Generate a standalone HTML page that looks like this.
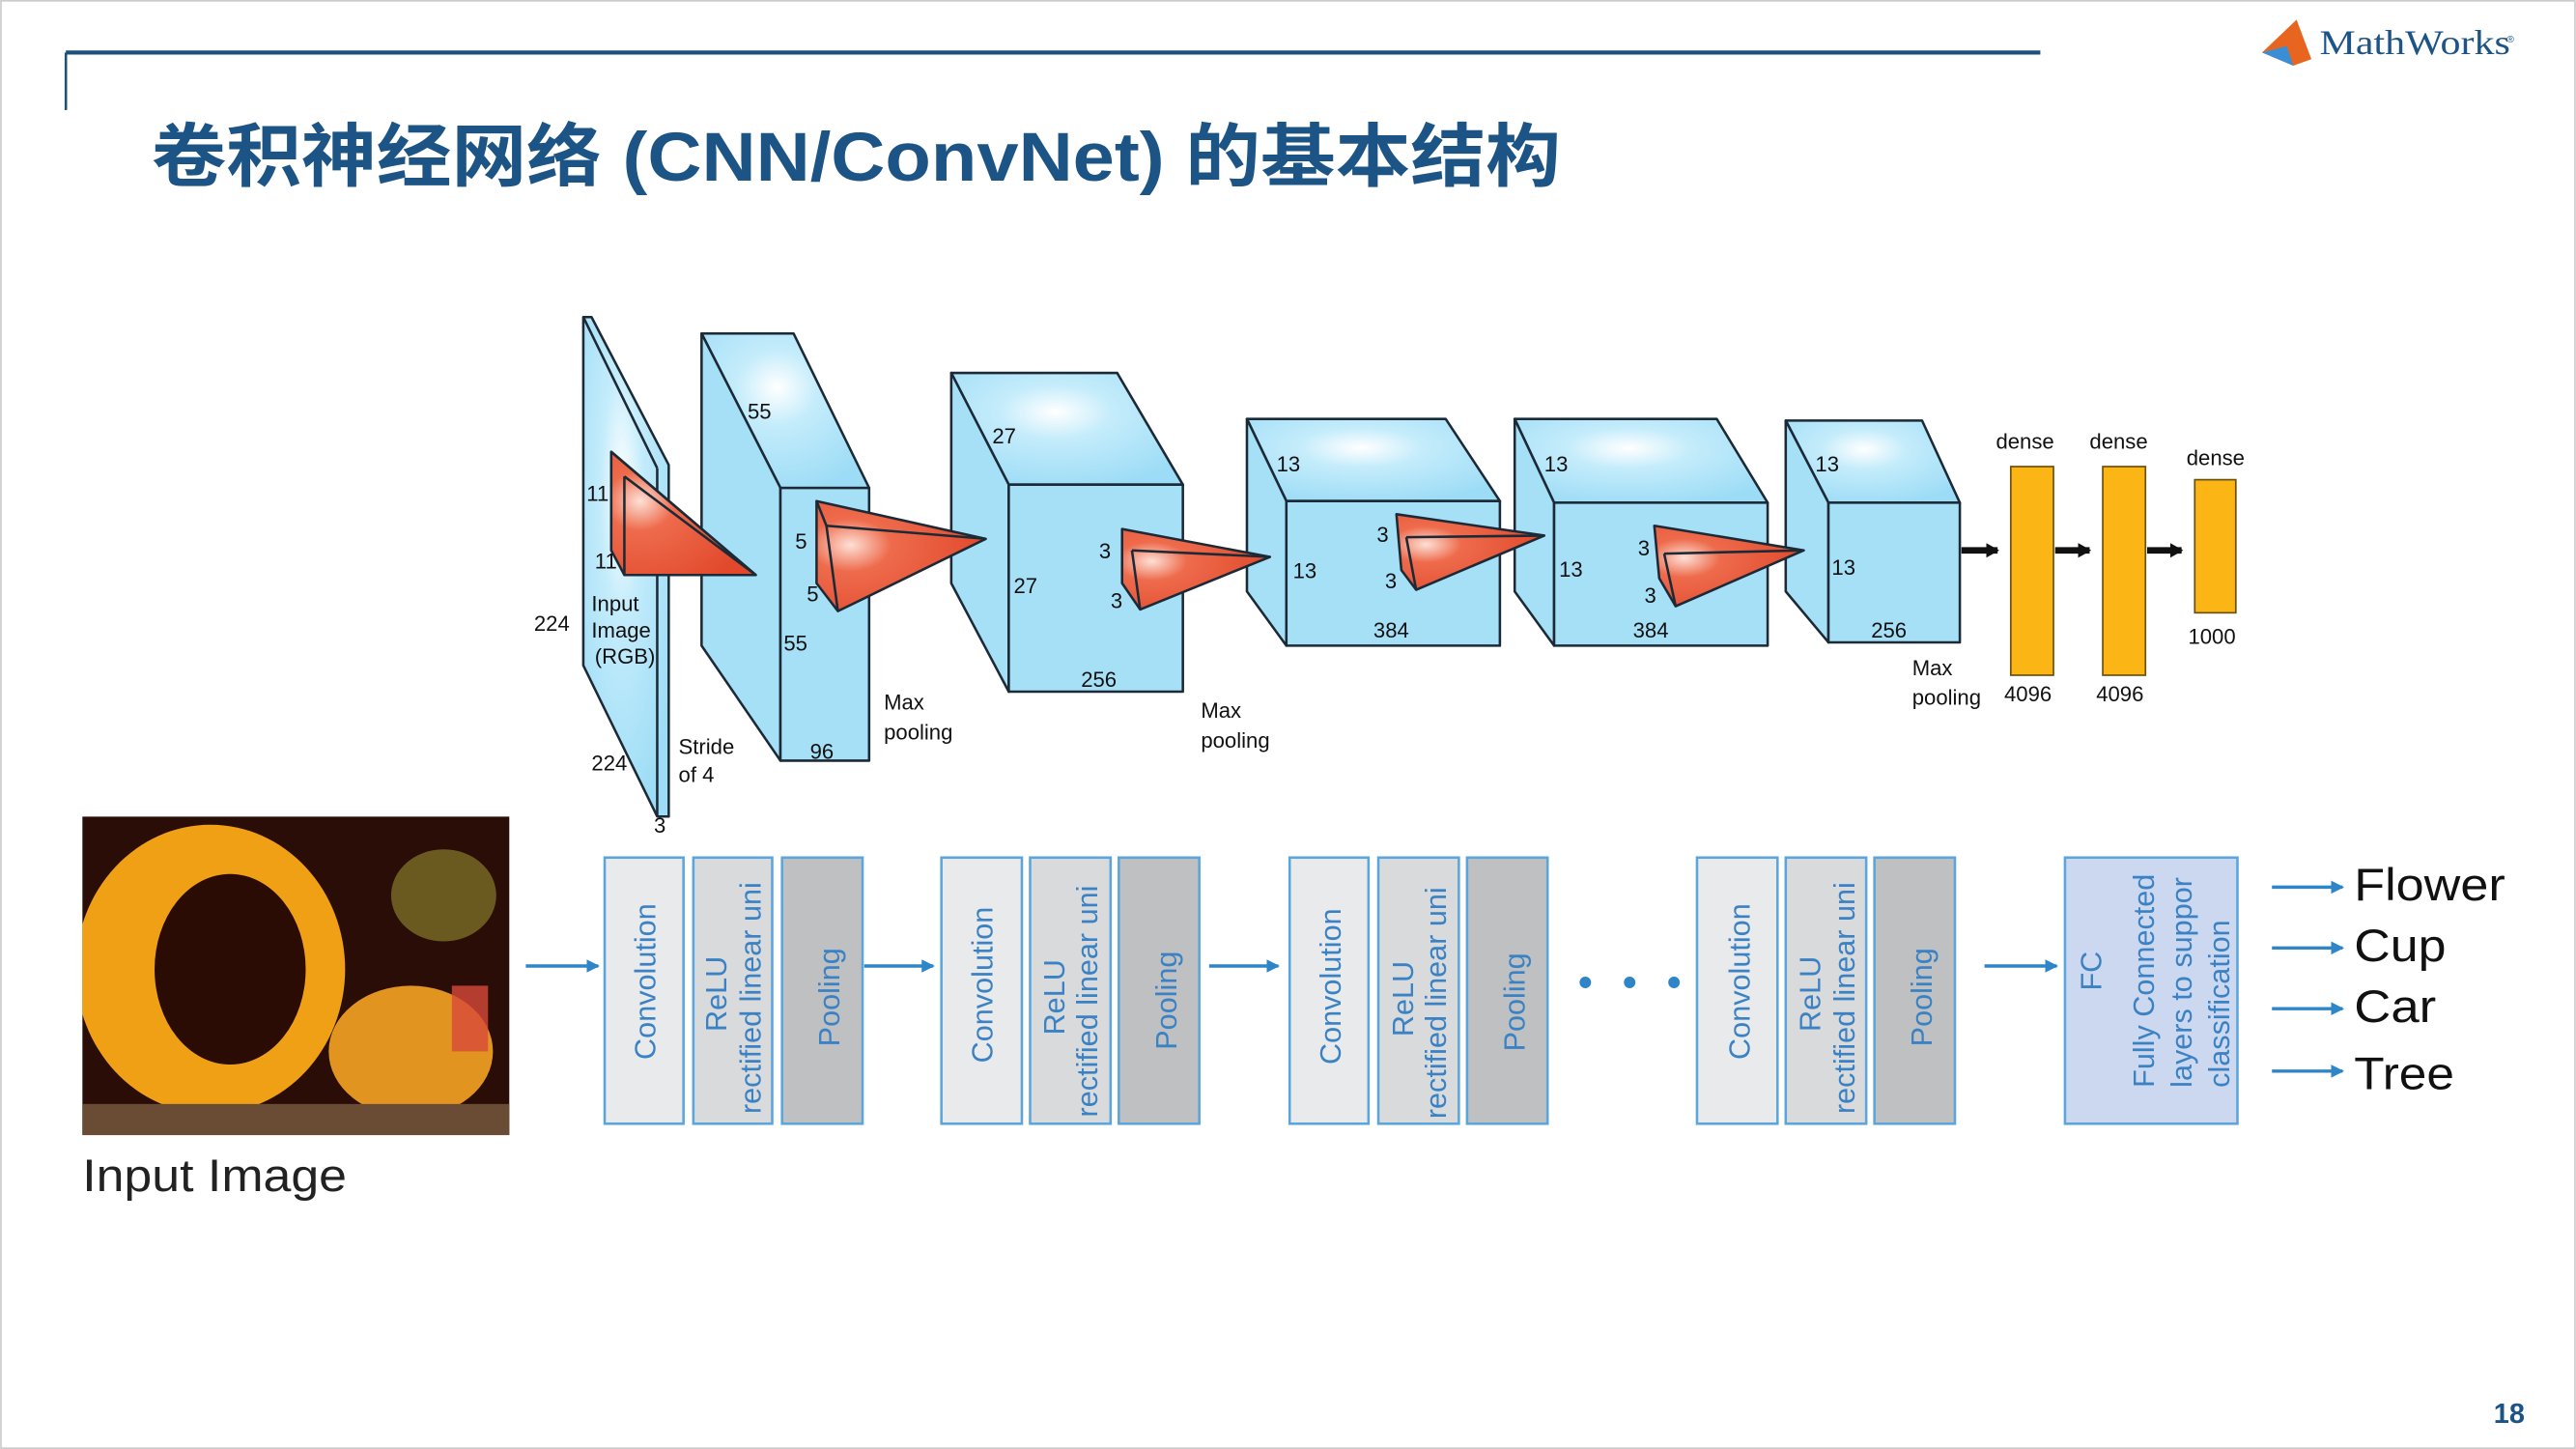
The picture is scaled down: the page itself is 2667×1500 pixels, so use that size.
<!DOCTYPE html>
<html><head><meta charset="utf-8"><style>
html,body{margin:0;padding:0;background:#fff;}
svg{display:block;}
</style></head><body>
<svg width="2667" height="1500" viewBox="0 0 1568 882" xmlns="http://www.w3.org/2000/svg" font-family="Liberation Sans, Noto Sans CJK SC, sans-serif">
<defs>
<radialGradient id="bl" cx="0.45" cy="0.35" r="0.7">
<stop offset="0" stop-color="#ffffff"/><stop offset="0.35" stop-color="#c4ecfb"/><stop offset="1" stop-color="#9cdcf6"/>
</radialGradient>
<radialGradient id="rd" cx="0.2" cy="0.4" r="0.8">
<stop offset="0" stop-color="#fde0d6"/><stop offset="0.3" stop-color="#ee6b4c"/><stop offset="1" stop-color="#e2492c"/>
</radialGradient>
<clipPath id="ic"><rect x="50" y="497" width="260" height="194"/></clipPath>
<marker id="ab" markerWidth="8" markerHeight="8" refX="7" refY="4" orient="auto" markerUnits="userSpaceOnUse"><path d="M0,0 L8,4 L0,8 Z" fill="#2e86c8"/></marker>
<marker id="ak" markerWidth="8" markerHeight="9" refX="7" refY="4.5" orient="auto" markerUnits="userSpaceOnUse"><path d="M0,0 L8,4.5 L0,9 Z" fill="#111"/></marker>
</defs>
<rect x="0.5" y="0.5" width="1567" height="881" fill="#fff" stroke="#ccc"/>
<!-- header -->
<line x1="40" y1="32" x2="1242" y2="32" stroke="#1b4f7d" stroke-width="2.5"/>
<line x1="40" y1="32" x2="40" y2="67" stroke="#1b4f7d" stroke-width="1.5"/>
<text x="92" y="110" font-size="42" font-weight="bold" fill="#1d5486" textLength="858" lengthAdjust="spacingAndGlyphs">卷积神经网络 (CNN/ConvNet) 的基本结构</text>
<polygon points="1398,12 1407,36 1396,40 1377,32" fill="#e8651f"/>
<polygon points="1377,32 1392,28 1396,40" fill="#3a8fd4"/>
<text x="1412" y="33" font-family="Liberation Serif, serif" font-size="21" fill="#1d5486" textLength="116" lengthAdjust="spacingAndGlyphs">MathWorks</text>
<text x="1526" y="26" font-size="6" fill="#1d5486">®</text>
<text x="1518" y="866" font-size="17" font-weight="bold" fill="#1d5486">18</text>

<!-- top diagram -->
<g stroke="#1b2a36" stroke-width="1.5" stroke-linejoin="round">
<polygon points="355,193 360,193 407,283 407,497 400,497 355,405" fill="url(#bl)"/>
<line x1="400" y1="285" x2="400" y2="497"/><line x1="355" y1="193" x2="400" y2="285"/>
<polygon points="427,203 483,203 529,297 475,297" fill="url(#bl)"/>
<polygon points="427,203 475,297 475,463 427,393" fill="#a6e0f7"/>
<rect x="475" y="297" width="54" height="166" fill="#a6e0f7"/>
<polygon points="579,227 680,227 720,295 614,295" fill="url(#bl)"/>
<polygon points="579,227 614,295 614,421 579,355" fill="#a6e0f7"/>
<rect x="614" y="295" width="106" height="126" fill="#a6e0f7"/>
<polygon points="759,255 880,255 913,305 783,305" fill="url(#bl)"/>
<polygon points="759,255 783,305 783,393 759,360" fill="#a6e0f7"/>
<rect x="783" y="305" width="130" height="88" fill="#a6e0f7"/>
<polygon points="922,255 1045,255 1076,306 946,306" fill="url(#bl)"/>
<polygon points="922,255 946,306 946,393 922,360" fill="#a6e0f7"/>
<rect x="946" y="306" width="130" height="87" fill="#a6e0f7"/>
<polygon points="1087,256 1170,256 1193,306 1113,306" fill="url(#bl)"/>
<polygon points="1087,256 1113,306 1113,391 1087,360" fill="#a6e0f7"/>
<rect x="1113" y="306" width="80" height="85" fill="#a6e0f7"/>
<polygon points="372,275 460,350 380,350 372,335" fill="url(#rd)"/>
<line x1="380" y1="290" x2="380" y2="350"/><line x1="372" y1="275" x2="460" y2="350"/><line x1="380" y1="290" x2="460" y2="350"/>
<polygon points="497,305 600,328 510,372 497,355" fill="url(#rd)"/>
<line x1="503" y1="320" x2="600" y2="328"/><line x1="503" y1="320" x2="510" y2="372"/><line x1="497" y1="305" x2="503" y2="320"/>
<polygon points="683,322 773,339 694,371 683,355" fill="url(#rd)"/>
<line x1="689" y1="335" x2="773" y2="339"/><line x1="689" y1="335" x2="694" y2="371"/>
<polygon points="850,313 940,326 862,359 853,347" fill="url(#rd)"/>
<line x1="856" y1="327" x2="940" y2="326"/><line x1="856" y1="327" x2="862" y2="359"/>
<polygon points="1007,320 1098,335 1020,369 1010,352" fill="url(#rd)"/>
<line x1="1013" y1="337" x2="1098" y2="335"/><line x1="1013" y1="337" x2="1020" y2="369"/>
</g>
<g fill="#fbb515" stroke="#6b5110" stroke-width="1">
<rect x="1224" y="284" width="26" height="127"/>
<rect x="1280" y="284" width="26" height="127"/>
<rect x="1336" y="292" width="25" height="81"/>
</g>
<g stroke="#111" stroke-width="4">
<line x1="1194" y1="335" x2="1216" y2="335" marker-end="url(#ak)"/>
<line x1="1251" y1="335" x2="1272" y2="335" marker-end="url(#ak)"/>
<line x1="1307" y1="335" x2="1328" y2="335" marker-end="url(#ak)"/>
</g>
<g font-size="13" fill="#111">
<text x="357" y="305">11</text><text x="362" y="346">11</text>
<text x="360" y="372">Input</text><text x="360" y="388">Image</text><text x="362" y="404">(RGB)</text>
<text x="325" y="384">224</text><text x="360" y="469">224</text><text x="398" y="507">3</text>
<text x="413" y="459">Stride</text><text x="413" y="476">of 4</text>
<text x="455" y="255">55</text><text x="484" y="334">5</text><text x="491" y="366">5</text>
<text x="477" y="396">55</text><text x="493" y="462">96</text>
<text x="538" y="432">Max</text><text x="538" y="450">pooling</text>
<text x="604" y="270">27</text><text x="617" y="361">27</text><text x="669" y="340">3</text><text x="676" y="370">3</text><text x="658" y="418">256</text>
<text x="731" y="437">Max</text><text x="731" y="455">pooling</text>
<text x="777" y="287">13</text><text x="787" y="352">13</text><text x="838" y="330">3</text><text x="843" y="358">3</text><text x="836" y="388">384</text>
<text x="940" y="287">13</text><text x="949" y="351">13</text><text x="997" y="338">3</text><text x="1001" y="367">3</text><text x="994" y="388">384</text>
<text x="1105" y="287">13</text><text x="1115" y="350">13</text><text x="1139" y="388">256</text>
<text x="1164" y="411">Max</text><text x="1164" y="429">pooling</text>
<text x="1220" y="427">4096</text><text x="1276" y="427">4096</text><text x="1332" y="392">1000</text>
<text x="1215" y="273">dense</text><text x="1272" y="273">dense</text><text x="1331" y="283">dense</text>
</g>

<!-- input image -->
<g clip-path="url(#ic)">
<rect x="50" y="497" width="260" height="194" fill="#2a0d06"/>
<ellipse cx="270" cy="545" rx="32" ry="28" fill="#6a5a20"/>
<ellipse cx="250" cy="640" rx="50" ry="40" fill="#e29420"/>
<rect x="275" y="600" width="22" height="40" fill="#d84a3a" opacity="0.8"/>
<ellipse cx="128" cy="590" rx="82" ry="88" fill="#f0a014"/>
<ellipse cx="140" cy="590" rx="46" ry="58" fill="#2a0c05"/>
<rect x="50" y="672" width="260" height="19" fill="#6a4c34"/>
</g>
<text x="50" y="725" font-size="28" fill="#222" textLength="161" lengthAdjust="spacingAndGlyphs">Input Image</text>

<!-- bottom blocks -->
<g stroke="#5aa5dc" stroke-width="1.5">
<rect x="368" y="522" width="48" height="162" fill="#e8eaec"/><rect x="422" y="522" width="48" height="162" fill="#d8dadc"/><rect x="476" y="522" width="49" height="162" fill="#bfc0c2"/>
<rect x="573" y="522" width="49" height="162" fill="#e8eaec"/><rect x="627" y="522" width="49" height="162" fill="#d8dadc"/><rect x="681" y="522" width="49" height="162" fill="#bfc0c2"/>
<rect x="785" y="522" width="48" height="162" fill="#e8eaec"/><rect x="839" y="522" width="49" height="162" fill="#d8dadc"/><rect x="893" y="522" width="49" height="162" fill="#bfc0c2"/>
<rect x="1033" y="522" width="49" height="162" fill="#e8eaec"/><rect x="1087" y="522" width="49" height="162" fill="#d8dadc"/><rect x="1141" y="522" width="49" height="162" fill="#bfc0c2"/>
<rect x="1257" y="522" width="105" height="162" fill="#ccd8ef"/>
</g>
<g font-size="18" fill="#3b82c4">
<text transform="translate(399,645) rotate(-90)">Convolution</text>
<text transform="translate(442,628) rotate(-90)">ReLU</text>
<text transform="translate(463,678) rotate(-90)">rectified linear uni</text>
<text transform="translate(511,637) rotate(-90)">Pooling</text>
<text transform="translate(604,647) rotate(-90)">Convolution</text>
<text transform="translate(648,630) rotate(-90)">ReLU</text>
<text transform="translate(668,680) rotate(-90)">rectified linear uni</text>
<text transform="translate(716,639) rotate(-90)">Pooling</text>
<text transform="translate(816,648) rotate(-90)">Convolution</text>
<text transform="translate(860,631) rotate(-90)">ReLU</text>
<text transform="translate(880,681) rotate(-90)">rectified linear uni</text>
<text transform="translate(928,640) rotate(-90)">Pooling</text>
<text transform="translate(1065,645) rotate(-90)">Convolution</text>
<text transform="translate(1108,628) rotate(-90)">ReLU</text>
<text transform="translate(1129,678) rotate(-90)">rectified linear uni</text>
<text transform="translate(1176,637) rotate(-90)">Pooling</text>
<text transform="translate(1279,603) rotate(-90)">FC</text>
<text transform="translate(1311,662) rotate(-90)">Fully Connected</text>
<text transform="translate(1334,662) rotate(-90)">layers to suppor</text>
<text transform="translate(1357,662) rotate(-90)">classification</text>
</g>
<g stroke="#2e86c8" stroke-width="2">
<line x1="320" y1="588" x2="364" y2="588" marker-end="url(#ab)"/>
<line x1="526" y1="588" x2="568" y2="588" marker-end="url(#ab)"/>
<line x1="736" y1="588" x2="778" y2="588" marker-end="url(#ab)"/>
<line x1="1208" y1="588" x2="1252" y2="588" marker-end="url(#ab)"/>
<line x1="1383" y1="540" x2="1426" y2="540" marker-end="url(#ab)"/>
<line x1="1383" y1="577" x2="1426" y2="577" marker-end="url(#ab)"/>
<line x1="1383" y1="614" x2="1426" y2="614" marker-end="url(#ab)"/>
<line x1="1383" y1="652" x2="1426" y2="652" marker-end="url(#ab)"/>
</g>
<g fill="#2e86c8"><circle cx="965" cy="598" r="3.5"/><circle cx="992" cy="598" r="3.5"/><circle cx="1019" cy="598" r="3.5"/></g>
<g font-size="28" fill="#111">
<text x="1433" y="548" textLength="92" lengthAdjust="spacingAndGlyphs">Flower</text><text x="1433" y="585" textLength="56" lengthAdjust="spacingAndGlyphs">Cup</text><text x="1433" y="622" textLength="50" lengthAdjust="spacingAndGlyphs">Car</text><text x="1433" y="663" textLength="61" lengthAdjust="spacingAndGlyphs">Tree</text>
</g>
</svg>
</body></html>
